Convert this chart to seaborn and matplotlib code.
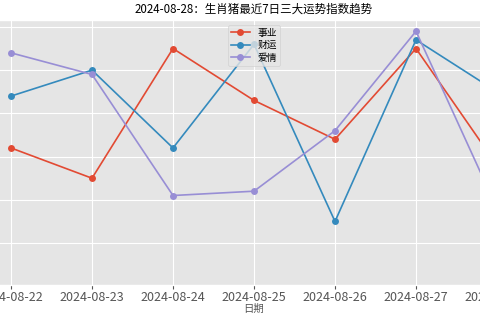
import matplotlib
matplotlib.use("Agg")
import matplotlib.pyplot as plt
import seaborn as sns
import pandas as pd

dates = ["2024-08-22", "2024-08-23", "2024-08-24", "2024-08-25",
         "2024-08-26", "2024-08-27", "2024-08-28"]
career = [72, 65, 95, 83, 74, 95, 68]
wealth = [84, 90, 72, 96, 55, 97, 85]
love = [94, 89, 61, 62, 76, 99, 58]
series_names = ["事业", "财运", "爱情"]
title = "2024-08-28：生肖猪最近7日三大运势指数趋势"

plt.style.use("ggplot")
plt.rcParams["font.family"] = ["Noto Sans CJK SC", "DejaVu Sans"]
plt.rcParams["axes.unicode_minus"] = False

colors = ["#E24A33", "#348ABD", "#988ED5"]

fig = plt.figure(figsize=(4.8, 3.2), dpi=100)
W, H = 480.0, 320.0
left_px, right_px = -13.3, 521.3
top_px, bottom_px = 20.0, 285.0
ax = fig.add_axes([left_px / W, (H - bottom_px) / H,
                   (right_px - left_px) / W, (bottom_px - top_px) / H])

for name, vals, c in zip(series_names, [career, wealth, love], colors):
    df = pd.DataFrame({"date": dates, "value": vals})
    sns.lineplot(data=df, x="date", y="value", marker="o", color=c,
                 label=name, ax=ax, linewidth=1.2, markersize=5,
                 markeredgewidth=0)

ax.set_xlim(-0.3, 6.3)
ax.set_ylim(40.3, 101.6)
ax.set_title(title, fontsize=8.3, pad=5)
ax.set_xlabel("日期", fontsize=7.5, color="#555555", labelpad=0)
ax.set_ylabel("")
ax.tick_params(axis="x", labelsize=9, colors="#555555", pad=1.5, length=3)
ax.legend(loc="upper center", fontsize=7, handlelength=2.0,
          borderpad=0.3, labelspacing=0.25)

fig.savefig("out.png", dpi=100)
